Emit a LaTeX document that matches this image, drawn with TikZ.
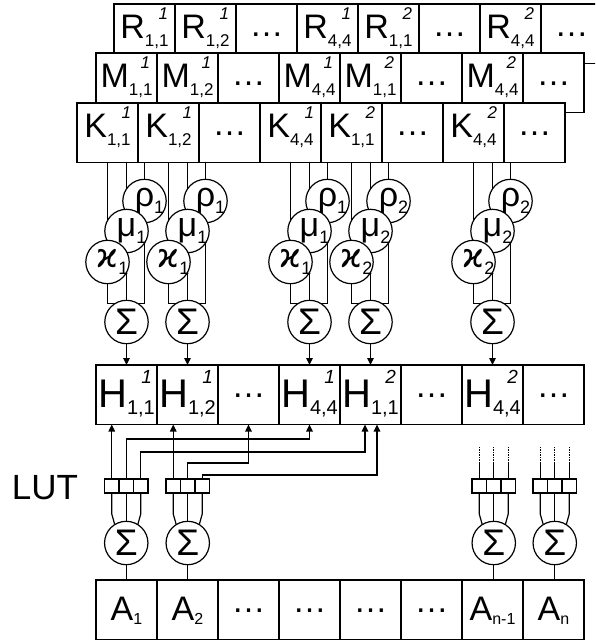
\documentclass[tikz,border=0pt]{standalone}
\usepackage{fontspec}
\setmainfont{Liberation Sans}
\newfontfamily\dvs{DejaVu Sans}
\usetikzlibrary{calc,arrows.meta}
\pgfdeclarelayer{bg}
\pgfsetlayers{bg,main}
\newcommand\fs[1]{\fontsize{#1}{#1}\selectfont}
\tikzset{
 cell/.style={draw, fill=white, line width=1.2pt, minimum width=61pt, minimum height=59.5pt, inner sep=0pt, outer sep=0pt, anchor=north west},
 txt/.style={inner sep=0pt, outer sep=0pt},
 circ/.style={circle, draw, fill=white, line width=1.2pt, minimum size=43.4pt, inner sep=0pt, outer sep=0pt},
 lutbox/.style={draw, fill=white, line width=1.2pt, minimum width=14.5pt, minimum height=14pt, inner sep=0pt, outer sep=0pt},
 wire/.style={line width=1.2pt},
 arr/.style={line width=1.2pt, -{Triangle[length=7pt,width=6.5pt]}},
 dotwire/.style={line width=1.2pt, dash pattern=on 1.2pt off 1.3pt},
}
\newcommand\kcell[6]{%
 \node[cell] (#1) at (#2,#3) {};
 \node[txt, anchor=base] (#1t) at ($(#1.north)+(0,34)$) {\fs{34}#4\raisebox{-8pt}{\fs{17}#5}};
 \node[txt, anchor=north east] (#1s) at ($(#1.north east)+(-7,4)$) {\fs{17}\itshape #6};
}
\newcommand\dcell[3]{%
 \node[cell] (#1) at (#2,#3) {};
 \node[txt, anchor=base] (#1t) at ($(#1.north)+(0,32)$) {\fs{34}…};
}
\newcommand\hcell[6]{%
 \node[cell] (#1) at (#2,#3) {};
 \node[txt, anchor=base] (#1t) at ($(#1.north)+(0,42)$) {\fs{40}#4\raisebox{-7pt}{\fs{20}#5}};
 \node[txt, anchor=north east] (#1s) at ($(#1.north east)+(-5,5)$) {\fs{19}\itshape #6};
}
\newcommand\acell[5]{%
 \node[cell] (#1) at (#2,#3) {};
 \node[txt, anchor=base] (#1t) at ($(#1.north)+(0,40)$) {\fs{34}#4\raisebox{-4pt}{\fs{16}#5}};
}
\begin{document}
\begin{tikzpicture}[x=1pt,y=-1pt]
\useasboundingbox (0,0) rectangle (595,640);
\begin{pgfonlayer}{bg}\fill[white] (0,0) rectangle (595,640);\end{pgfonlayer}
\clip (0,0) rectangle (595,640);
% R row
\kcell{R0}{114}{4}{R}{1,1}{1}
\kcell{R1}{175}{4}{R}{1,2}{1}
\dcell{R2}{236}{4}
\kcell{R3}{297}{4}{R}{4,4}{1}
\kcell{R4}{358}{4}{R}{1,1}{2}
\dcell{R5}{419}{4}
\kcell{R6}{480}{4}{R}{4,4}{2}
\dcell{R7}{541}{4}
% M row
\kcell{M0}{96}{53}{M}{1,1}{1}
\kcell{M1}{157}{53}{M}{1,2}{1}
\dcell{M2}{218}{53}
\kcell{M3}{279}{53}{M}{4,4}{1}
\kcell{M4}{340}{53}{M}{1,1}{2}
\dcell{M5}{401}{53}
\kcell{M6}{462}{53}{M}{4,4}{2}
\dcell{M7}{523}{53}
% K row
\kcell{K0}{77}{103}{K}{1,1}{1}
\kcell{K1}{138}{103}{K}{1,2}{1}
\dcell{K2}{199}{103}
\kcell{K3}{260}{103}{K}{4,4}{1}
\kcell{K4}{321}{103}{K}{1,1}{2}
\dcell{K5}{382}{103}
\kcell{K6}{443}{103}{K}{4,4}{2}
\dcell{K7}{504}{103}
% circles (upper)
\foreach \g/\i/\s in {1/0/1,2/1/1,3/3/1,4/4/2,5/6/2}{
 \node[circ] (rho\g) at ({144.5+61*\i},201) {\fs{34}ρ\rlap{\raisebox{-7pt}{\fs{18}\s}}};
 \node[circ] (mu\g) at ({126.5+61*\i},231) {\fs{34}μ\rlap{\raisebox{-7pt}{\fs{18}\s}}};
 \node[circ] (kap\g) at ({107.5+61*\i},262) {{\dvs\fs{33}ϰ}\rlap{\raisebox{-7pt}{\fs{18}\s}}};
 \node[circ] (S\g) at ({126.5+61*\i},322) {\fs{37}Σ};
}
% H row
\hcell{H0}{96}{365}{H}{1,1}{1}
\hcell{H1}{157}{365}{H}{1,2}{1}
\dcell{H2}{218}{365}
\hcell{H3}{279}{365}{H}{4,4}{1}
\hcell{H4}{340}{365}{H}{1,1}{2}
\dcell{H5}{401}{365}
\hcell{H6}{462}{365}{H}{4,4}{2}
\dcell{H7}{523}{365}
% A row
\acell{A0}{96}{580}{A}{1}
\acell{A1}{157}{580}{A}{2}
\dcell{A2}{218}{580}
\dcell{A3}{279}{580}
\dcell{A4}{340}{580}
\dcell{A5}{401}{580}
\acell{A6}{462}{580}{A}{n-1}
\acell{A7}{523}{580}{A}{n}
% LUT groups and lower sums
\foreach \g/\xl in {1/104.5,2/166,3/472,4/533}{
 \node[lutbox] (L\g-a) at ({\xl+7.25},486) {};
 \node[lutbox] (L\g-b) at ({\xl+21.75},486) {};
 \node[lutbox] (L\g-c) at ({\xl+36.25},486) {};
 \node[circ] (T\g) at ({\xl+21.75},543) {\fs{37}Σ};
}
\node[txt, anchor=base west] (lutlab) at (12,499) {\fs{35}LUT};
% wires behind
\begin{pgfonlayer}{bg}
\foreach \g/\i in {1/0,2/1,3/3,4/4,5/6}{
 \draw[wire] (K\i.south) |- (S\g.122);
 \draw[wire] (M\i.center |- K\i.south) -- (S\g.north);
 \draw[wire] (R\i.center |- K\i.south) |- (S\g.58);
}
\foreach \g/\a in {1/0,2/1,3/6,4/7}{
 \draw[wire] (L\g-a.south) -- ++(0,21) -- (T\g.122);
 \draw[wire] (L\g-b.south) -- (T\g.north);
 \draw[wire] (L\g-c.south) -- ++(0,21) -- (T\g.58);
 \draw[wire] (T\g.south) -- (T\g.south |- A\a.north);
}
\end{pgfonlayer}
% arrows sums -> H
\foreach \g/\i in {1/0,2/1,3/3,4/4,5/6}{
 \draw[arr] (S\g.south) -- (H\i.north);
}
% LUT -> H
\draw[arr] (L1-a.north) -- (L1-a.north |- H0.south);
\draw[arr] (L1-b.north) -- ++(0,-40) -| (H3.south);
\draw[arr] (L1-c.north) -- ++(0,-27) -| ($(H4.south)+(-5.5,0)$);
\draw[arr] (L2-a.north) -- (L2-a.north |- H1.south);
\draw[arr] (L2-b.north) -- ++(0,-16) -| (H2.south);
\draw[arr] (L2-c.north) -- ++(0,-4) -| ($(H4.south)+(6.5,0)$);
% dotted inputs
\foreach \g in {3,4}{
 \foreach \n in {a,b,c}{
  \draw[wire] (L\g-\n.north) -- ++(0,-16) coordinate (D\g\n);
  \draw[dotwire] (D\g\n) -- ++(0,-17);
 }
}
\end{tikzpicture}
\end{document}
